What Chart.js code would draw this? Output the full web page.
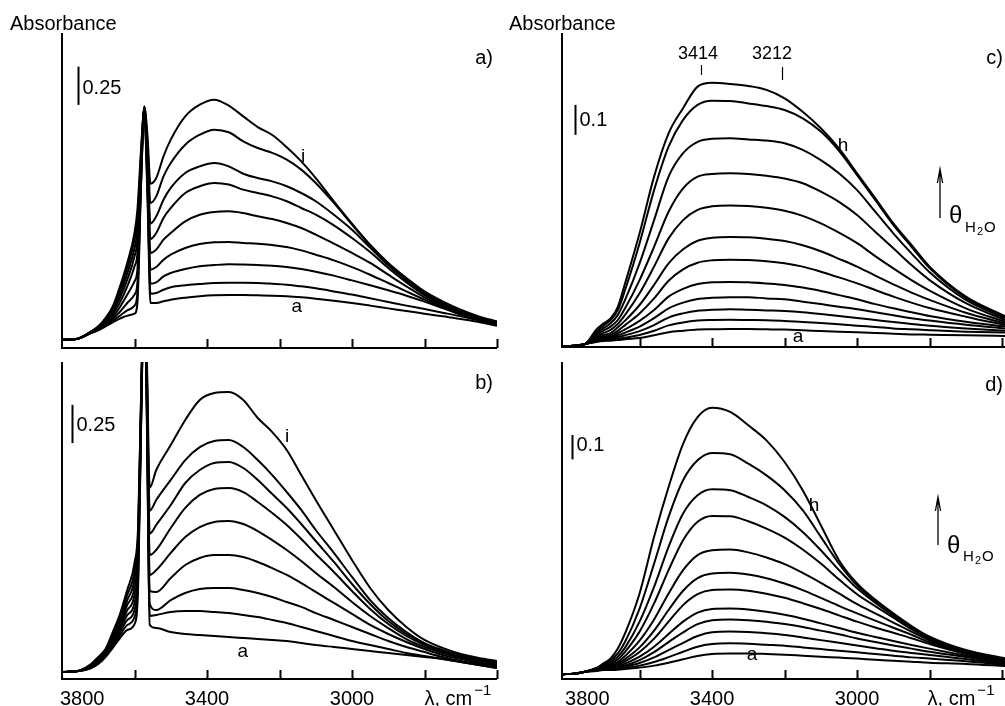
<!DOCTYPE html>
<html><head><meta charset="utf-8">
<script src="https://cdn.jsdelivr.net/npm/chart.js@4.4.1/dist/chart.umd.min.js"></script>
<style>
html,body{margin:0;padding:0;background:#fff;}
#wrap{position:relative;width:1005px;height:706px;overflow:hidden;background:#fff;}
canvas{position:absolute;left:0;top:0;}
</style></head>
<body><div id="wrap">
<canvas id="pa" width="1005" height="706"></canvas>
<canvas id="pb" width="1005" height="706"></canvas>
<canvas id="pc" width="1005" height="706"></canvas>
<canvas id="pd" width="1005" height="706"></canvas>
</div>
<script>
// ---------- Panel a (wavenumber grid, cm-1) ----------
const nuA = [3800,3760,3720,3700,3680,3660,3640,3620,3600,3592,3582,3573,3564,3556,3540,3520,3500,3460,3420,3380,3340,3300,3260,3220,3180,3140,3100,3050,3000,2950,2900,2850,2800,2750,2700,2650,2600];
const a_a = [0.054,0.059,0.098,0.115,0.142,0.168,0.192,0.211,0.224,0.294,1.057,1.545,0.969,0.294,0.294,0.305,0.316,0.329,0.338,0.344,0.346,0.346,0.344,0.342,0.338,0.331,0.322,0.309,0.294,0.277,0.259,0.242,0.224,0.207,0.190,0.170,0.146];
const a_b = [0.054,0.059,0.098,0.118,0.146,0.179,0.211,0.246,0.277,0.359,1.078,1.549,1.013,0.355,0.359,0.381,0.397,0.410,0.418,0.425,0.427,0.427,0.425,0.420,0.414,0.403,0.390,0.370,0.349,0.325,0.301,0.277,0.255,0.231,0.207,0.179,0.150];
const a_c = [0.054,0.059,0.098,0.120,0.150,0.190,0.237,0.294,0.349,0.425,1.100,1.553,1.057,0.420,0.429,0.468,0.490,0.516,0.534,0.542,0.547,0.545,0.542,0.538,0.529,0.516,0.499,0.473,0.442,0.410,0.377,0.342,0.303,0.261,0.218,0.181,0.153];
const a_d = [0.054,0.059,0.100,0.122,0.157,0.203,0.268,0.349,0.436,0.512,1.133,1.558,1.100,0.512,0.529,0.577,0.610,0.654,0.680,0.691,0.693,0.686,0.682,0.673,0.660,0.638,0.610,0.573,0.529,0.479,0.425,0.370,0.316,0.266,0.220,0.183,0.155];
const a_e = [0.054,0.059,0.100,0.124,0.163,0.218,0.298,0.403,0.534,0.621,1.166,1.562,1.166,0.621,0.643,0.708,0.752,0.828,0.871,0.889,0.893,0.882,0.861,0.843,0.817,0.784,0.741,0.682,0.621,0.556,0.479,0.403,0.331,0.272,0.224,0.185,0.157];
const a_f = [0.054,0.059,0.102,0.129,0.172,0.233,0.327,0.447,0.599,0.708,1.198,1.566,1.209,0.712,0.752,0.850,0.915,1.013,1.057,1.078,1.068,1.035,1.013,0.991,0.959,0.915,0.871,0.802,0.719,0.627,0.523,0.429,0.346,0.281,0.231,0.190,0.159];
const a_g = [0.054,0.059,0.105,0.133,0.181,0.246,0.355,0.486,0.654,0.773,1.231,1.571,1.253,0.813,0.861,0.969,1.046,1.144,1.187,1.209,1.187,1.139,1.111,1.089,1.057,1.013,0.959,0.871,0.773,0.656,0.540,0.442,0.355,0.290,0.237,0.194,0.163];
const a_h = [0.054,0.059,0.107,0.137,0.190,0.261,0.381,0.523,0.708,0.839,1.264,1.575,1.318,0.948,0.991,1.122,1.209,1.329,1.394,1.427,1.410,1.351,1.307,1.275,1.231,1.166,1.078,0.948,0.806,0.671,0.551,0.451,0.364,0.298,0.244,0.200,0.168];
const a_i = [0.054,0.059,0.109,0.142,0.196,0.272,0.403,0.556,0.752,0.904,1.296,1.580,1.383,1.074,1.111,1.253,1.362,1.514,1.590,1.623,1.584,1.514,1.444,1.392,1.312,1.220,1.111,0.959,0.813,0.675,0.556,0.458,0.370,0.305,0.251,0.207,0.174];

// ---------- Panel b ----------
const nuB = [3800,3760,3720,3700,3680,3660,3640,3620,3600,3590,3580,3573,3566,3558,3540,3500,3460,3420,3380,3340,3300,3260,3220,3180,3140,3100,3050,3000,2950,2900,2850,2800,2750,2700,2650,2600];
const b_a = [0.046,0.050,0.072,0.098,0.144,0.203,0.268,0.320,0.359,0.60,1.90,2.6,1.70,0.353,0.333,0.307,0.294,0.288,0.281,0.275,0.268,0.261,0.255,0.248,0.235,0.222,0.209,0.196,0.183,0.170,0.157,0.144,0.131,0.111,0.092,0.072];
const b_b = [0.046,0.050,0.072,0.105,0.150,0.216,0.288,0.353,0.405,0.65,1.92,2.6,1.75,0.412,0.418,0.438,0.444,0.444,0.438,0.431,0.418,0.405,0.386,0.366,0.340,0.314,0.281,0.248,0.222,0.196,0.170,0.150,0.131,0.111,0.092,0.072];
const b_c = [0.046,0.050,0.078,0.111,0.157,0.229,0.307,0.386,0.451,0.70,1.94,2.6,1.80,0.490,0.451,0.516,0.562,0.588,0.595,0.595,0.582,0.562,0.536,0.503,0.471,0.431,0.386,0.340,0.294,0.248,0.209,0.176,0.144,0.118,0.098,0.078];
const b_d = [0.046,0.050,0.078,0.111,0.163,0.242,0.327,0.418,0.497,0.75,1.96,2.6,1.85,0.575,0.569,0.660,0.745,0.791,0.810,0.810,0.797,0.765,0.725,0.680,0.627,0.569,0.497,0.425,0.353,0.294,0.242,0.196,0.157,0.131,0.105,0.085];
const b_e = [0.046,0.050,0.085,0.118,0.170,0.255,0.346,0.451,0.549,0.80,1.98,2.6,1.90,0.680,0.712,0.824,0.928,0.993,1.026,1.033,1.013,0.967,0.908,0.843,0.771,0.693,0.601,0.503,0.412,0.333,0.261,0.209,0.170,0.137,0.111,0.092];
const b_f = [0.046,0.050,0.085,0.124,0.176,0.268,0.366,0.484,0.601,0.85,2.00,2.6,1.95,0.810,0.843,0.987,1.118,1.203,1.242,1.248,1.222,1.157,1.085,1.007,0.915,0.817,0.699,0.575,0.458,0.359,0.281,0.222,0.176,0.144,0.118,0.098];
const b_g = [0.046,0.050,0.092,0.131,0.183,0.281,0.386,0.516,0.654,0.90,2.02,2.6,2.00,0.950,1.007,1.137,1.281,1.366,1.412,1.418,1.379,1.301,1.209,1.118,1.013,0.902,0.765,0.621,0.490,0.379,0.294,0.229,0.183,0.150,0.124,0.105];
const b_h = [0.046,0.050,0.092,0.137,0.190,0.294,0.405,0.549,0.706,0.95,2.04,2.6,2.05,1.100,1.170,1.301,1.431,1.516,1.556,1.562,1.516,1.431,1.333,1.222,1.105,0.974,0.824,0.667,0.516,0.399,0.307,0.235,0.190,0.157,0.131,0.111];
const b_i = [0.046,0.050,0.098,0.144,0.196,0.307,0.425,0.582,0.758,1.00,2.06,2.6,2.10,1.250,1.366,1.529,1.693,1.824,1.869,1.876,1.824,1.706,1.614,1.497,1.333,1.170,0.974,0.778,0.595,0.451,0.340,0.255,0.203,0.163,0.137,0.118];

// ---------- Panels c and d (shared wavenumber grid) ----------
const nuCD = [3814,3780,3750,3720,3700,3680,3660,3640,3600,3560,3520,3480,3440,3400,3350,3300,3250,3200,3150,3100,3050,3000,2950,2900,2850,2800,2700,2592];
const c_1 = [0.003,0.004,0.010,0.057,0.078,0.095,0.134,0.212,0.379,0.568,0.712,0.796,0.868,0.881,0.877,0.870,0.857,0.829,0.784,0.729,0.662,0.579,0.496,0.412,0.340,0.268,0.168,0.103];
const c_2 = [0.003,0.004,0.010,0.051,0.070,0.090,0.123,0.190,0.346,0.523,0.668,0.757,0.807,0.821,0.820,0.812,0.803,0.790,0.762,0.718,0.654,0.573,0.490,0.407,0.334,0.263,0.164,0.101];
const c_3 = [0.003,0.004,0.010,0.046,0.062,0.079,0.107,0.157,0.279,0.423,0.568,0.646,0.684,0.694,0.696,0.692,0.688,0.679,0.657,0.623,0.579,0.523,0.451,0.379,0.312,0.249,0.157,0.096];
const c_4 = [0.003,0.004,0.010,0.040,0.054,0.068,0.090,0.129,0.223,0.334,0.451,0.529,0.568,0.577,0.579,0.577,0.571,0.562,0.546,0.518,0.484,0.440,0.384,0.329,0.273,0.223,0.146,0.090];
const c_5 = [0.003,0.004,0.010,0.034,0.046,0.057,0.077,0.107,0.179,0.268,0.362,0.423,0.457,0.469,0.472,0.470,0.464,0.454,0.437,0.412,0.381,0.346,0.303,0.262,0.223,0.188,0.129,0.084];
const c_6 = [0.003,0.004,0.010,0.029,0.039,0.046,0.066,0.088,0.140,0.207,0.279,0.326,0.354,0.364,0.367,0.366,0.361,0.353,0.339,0.319,0.294,0.268,0.238,0.209,0.181,0.157,0.114,0.079];
const c_7 = [0.003,0.004,0.010,0.026,0.034,0.040,0.054,0.073,0.112,0.162,0.221,0.259,0.281,0.289,0.291,0.290,0.286,0.279,0.268,0.251,0.232,0.212,0.190,0.168,0.148,0.130,0.101,0.073];
const c_8 = [0.003,0.004,0.010,0.023,0.031,0.034,0.046,0.059,0.087,0.123,0.168,0.194,0.210,0.216,0.217,0.216,0.212,0.207,0.198,0.187,0.173,0.159,0.143,0.129,0.116,0.103,0.084,0.068];
const c_9 = [0.003,0.004,0.010,0.021,0.028,0.031,0.039,0.048,0.068,0.096,0.129,0.148,0.160,0.164,0.166,0.166,0.162,0.159,0.151,0.143,0.134,0.126,0.116,0.106,0.096,0.088,0.074,0.062];
const c_10 = [0.003,0.004,0.010,0.019,0.024,0.028,0.033,0.039,0.053,0.073,0.098,0.112,0.121,0.124,0.126,0.124,0.122,0.120,0.116,0.110,0.103,0.097,0.090,0.083,0.077,0.071,0.062,0.054];
const c_11 = [0.003,0.004,0.010,0.018,0.022,0.024,0.028,0.031,0.040,0.054,0.072,0.082,0.088,0.090,0.091,0.090,0.089,0.087,0.083,0.080,0.076,0.071,0.067,0.062,0.059,0.056,0.051,0.048];
const c_12 = [0.003,0.004,0.010,0.017,0.020,0.021,0.023,0.026,0.030,0.039,0.049,0.054,0.058,0.059,0.060,0.060,0.059,0.058,0.056,0.053,0.051,0.049,0.047,0.044,0.042,0.041,0.039,0.037];

const d_1 = [0.020,0.022,0.030,0.044,0.064,0.085,0.126,0.188,0.352,0.585,0.790,0.968,1.078,1.116,1.099,1.044,0.982,0.893,0.777,0.633,0.489,0.393,0.327,0.270,0.218,0.174,0.119,0.085];
const d_2 = [0.020,0.022,0.030,0.044,0.060,0.078,0.105,0.153,0.290,0.475,0.667,0.818,0.900,0.930,0.925,0.886,0.838,0.777,0.695,0.585,0.475,0.386,0.322,0.267,0.215,0.171,0.116,0.082];
const d_3 = [0.020,0.022,0.030,0.044,0.056,0.071,0.092,0.129,0.236,0.379,0.544,0.681,0.756,0.781,0.777,0.749,0.715,0.667,0.605,0.530,0.448,0.373,0.314,0.260,0.211,0.168,0.114,0.079];
const d_4 = [0.020,0.022,0.030,0.044,0.053,0.064,0.081,0.112,0.195,0.311,0.448,0.571,0.647,0.671,0.670,0.649,0.619,0.582,0.533,0.475,0.410,0.349,0.300,0.252,0.205,0.164,0.111,0.077];
const d_5 = [0.020,0.022,0.030,0.042,0.051,0.059,0.071,0.095,0.158,0.245,0.352,0.448,0.510,0.530,0.533,0.521,0.500,0.473,0.437,0.396,0.352,0.308,0.270,0.232,0.195,0.158,0.108,0.074];
const d_6 = [0.020,0.022,0.030,0.041,0.048,0.055,0.064,0.082,0.130,0.199,0.284,0.363,0.415,0.434,0.437,0.430,0.415,0.393,0.366,0.334,0.301,0.270,0.240,0.211,0.182,0.151,0.105,0.071];
const d_7 = [0.020,0.022,0.030,0.040,0.045,0.051,0.059,0.073,0.111,0.166,0.236,0.304,0.349,0.366,0.368,0.363,0.351,0.334,0.312,0.288,0.262,0.236,0.212,0.190,0.168,0.144,0.103,0.068];
const d_8 = [0.020,0.022,0.030,0.038,0.042,0.047,0.053,0.063,0.092,0.133,0.185,0.236,0.273,0.288,0.290,0.286,0.277,0.264,0.248,0.229,0.210,0.190,0.173,0.156,0.140,0.125,0.096,0.066];
const d_9 = [0.020,0.022,0.030,0.037,0.041,0.044,0.049,0.056,0.078,0.111,0.152,0.192,0.226,0.242,0.245,0.242,0.236,0.226,0.214,0.199,0.184,0.167,0.152,0.138,0.125,0.112,0.090,0.063];
const d_10 = [0.020,0.022,0.030,0.036,0.040,0.042,0.045,0.051,0.066,0.089,0.119,0.149,0.177,0.192,0.195,0.193,0.188,0.181,0.171,0.160,0.149,0.138,0.127,0.116,0.107,0.099,0.082,0.060];
const d_11 = [0.020,0.022,0.030,0.034,0.038,0.040,0.041,0.045,0.055,0.070,0.090,0.112,0.133,0.144,0.147,0.145,0.141,0.137,0.130,0.123,0.116,0.110,0.103,0.096,0.089,0.084,0.073,0.058];
const d_12 = [0.020,0.022,0.030,0.033,0.037,0.037,0.038,0.041,0.047,0.055,0.067,0.081,0.095,0.103,0.105,0.105,0.103,0.100,0.096,0.092,0.088,0.084,0.079,0.075,0.071,0.067,0.062,0.053];

// ---------- Axis ticks and labels ----------
const ticksAB = [3600,3400,3200,3000,2800,2600];
const ticksCD = [3600,3400,3200,3000,2800,2600];
const tickLabels = [3800,3400,3000];
const axisTitle = 'λ, cm';
const axisTitleSup = '−1';

const FONT = "'Liberation Sans', Arial, Helvetica, sans-serif";

const decorPlugin = {
  id: 'decor',
  afterDraw(chart, args, o) {
    const ctx = chart.ctx, ca = chart.chartArea, xs = chart.scales.x, ys = chart.scales.y;
    ctx.save();
    ctx.strokeStyle = '#000'; ctx.fillStyle = '#000';
    ctx.lineWidth = 2;
    ctx.beginPath();
    ctx.moveTo(ca.left, ca.top); ctx.lineTo(ca.left, ca.bottom + 1);
    ctx.moveTo(ca.left - 1, ca.bottom); ctx.lineTo(ca.right, ca.bottom);
    o.ticks.forEach(v => {
      const px = Math.round(xs.getPixelForValue(v)) + 0.5;
      ctx.moveTo(px, ca.bottom); ctx.lineTo(px, ca.bottom - 9);
    });
    ctx.stroke();
    if (o.showLabels) {
      ctx.font = '20px ' + FONT; ctx.textBaseline = 'alphabetic';
      tickLabels.forEach((v, i) => {
        const px = xs.getPixelForValue(v);
        ctx.textAlign = i === 0 ? 'left' : 'center';
        ctx.fillText(String(v), i === 0 ? px - 2 : px, 705);
      });
      const tx = xs.getPixelForValue(2800) + o.titleShift;
      ctx.textAlign = 'left';
      ctx.fillText(axisTitle, tx, 705);
      const w = ctx.measureText(axisTitle).width;
      ctx.font = '15px ' + FONT;
      ctx.fillText(axisTitleSup, tx + w + 2, 695);
    }
    const sb = o.bar;
    const bx = Math.round(xs.getPixelForValue(sb.nu)) + 0.5;
    const by0 = ys.getPixelForValue(sb.a0), by1 = ys.getPixelForValue(sb.a0 + sb.len);
    ctx.lineWidth = 2;
    ctx.beginPath(); ctx.moveTo(bx, by0); ctx.lineTo(bx, by1); ctx.stroke();
    ctx.font = '20px ' + FONT; ctx.textAlign = 'left'; ctx.textBaseline = 'middle';
    ctx.fillText(sb.label, bx + 4, (by0 + by1) / 2 + sb.dy);
    ctx.font = '19px ' + FONT; ctx.textAlign = 'center'; ctx.textBaseline = 'middle';
    o.curveLabels.forEach(l => ctx.fillText(l.s, xs.getPixelForValue(l.nu), ys.getPixelForValue(l.a)));
    ctx.lineWidth = 1.2;
    (o.markers || []).forEach(m => {
      const mx = Math.round(xs.getPixelForValue(m.nu)) + 0.5;
      ctx.beginPath(); ctx.moveTo(mx, ys.getPixelForValue(m.a0)); ctx.lineTo(mx, ys.getPixelForValue(m.a1)); ctx.stroke();
    });
    (o.texts || []).forEach(t => {
      ctx.font = (t.size || 20) + 'px ' + FONT;
      ctx.textAlign = t.align || 'left';
      ctx.textBaseline = t.base || 'alphabetic';
      ctx.fillText(t.s, t.x, t.y);
    });
    if (o.arrow) {
      const A = o.arrow;
      ctx.lineWidth = 1.3;
      ctx.beginPath();
      ctx.moveTo(A.x, A.y1); ctx.lineTo(A.x, A.y0);
      ctx.moveTo(A.x - 2.6, A.y0 + 14); ctx.lineTo(A.x, A.y0); ctx.lineTo(A.x + 2.6, A.y0 + 14);
      ctx.stroke();
      ctx.textAlign = 'left'; ctx.textBaseline = 'alphabetic';
      ctx.font = '24px ' + FONT; ctx.fillText('θ', A.x + 9, A.tb);
      ctx.font = '15px ' + FONT; ctx.fillText('H', A.x + 25, A.sb);
      ctx.font = '11px ' + FONT; ctx.fillText('2', A.x + 37, A.sb + 3);
      ctx.font = '15px ' + FONT; ctx.fillText('O', A.x + 44, A.sb);
    }
    ctx.restore();
  }
};

function buildChart(id, nu, series, xMin, xMax, yMax, pad, decor) {
  const datasets = series.map(s => ({
    data: nu.map((v, i) => ({ x: v, y: s[i] })),
    borderColor: '#000', borderWidth: 2, pointRadius: 0, fill: false,
    cubicInterpolationMode: 'monotone'
  }));
  return new Chart(document.getElementById(id), {
    type: 'line',
    data: { datasets },
    options: {
      responsive: false, animation: false, devicePixelRatio: 1, events: [],
      layout: { padding: pad },
      scales: {
        x: { type: 'linear', reverse: true, min: xMin, max: xMax, display: false },
        y: { type: 'linear', min: 0, max: yMax, display: false }
      },
      plugins: { legend: { display: false }, tooltip: { enabled: false }, decor }
    },
    plugins: [decorPlugin]
  });
}

buildChart('pa', nuA, [a_a,a_b,a_c,a_d,a_e,a_f,a_g,a_h,a_i], 2600, 3800, 315/153,
  { left: 62, top: 33, right: 508, bottom: 358 },
  { ticks: ticksAB, showLabels: false,
    bar: { nu: 3757, a0: 1.589, len: 0.25, label: '0.25', dy: 3 },
    curveLabels: [{ s: 'i', nu: 3135, a: 1.248 }, { s: 'a', nu: 3152, a: 0.268 }],
    texts: [{ s: 'Absorbance', x: 10, y: 30 }, { s: 'a)', x: 493, y: 58, align: 'right', base: 'middle' }] });

buildChart('pb', nuB, [b_a,b_b,b_c,b_d,b_e,b_f,b_g,b_h,b_i], 2600, 3800, 317/153,
  { left: 62, top: 362, right: 508, bottom: 27 },
  { ticks: ticksAB, showLabels: true, titleShift: 0,
    bar: { nu: 3772, a0: 1.542, len: 0.25, label: '0.25', dy: 2 },
    curveLabels: [{ s: 'i', nu: 3179, a: 1.582 }, { s: 'a', nu: 3301, a: 0.176 }],
    texts: [{ s: 'b)', x: 493, y: 383, align: 'right', base: 'middle' }] });

buildChart('pc', nuCD, [c_1,c_2,c_3,c_4,c_5,c_6,c_7,c_8,c_9,c_10,c_11,c_12], 2592, 3814, 314/300,
  { left: 562, top: 33, right: 0, bottom: 359 },
  { ticks: ticksCD, showLabels: false,
    bar: { nu: 3778, a0: 0.707, len: 0.1, label: '0.1', dy: 1 },
    curveLabels: [{ s: 'h', nu: 3039, a: 0.670 }, { s: 'a', nu: 3163, a: 0.033 }],
    markers: [{ nu: 3431, a0: 0.907, a1: 0.940 }, { nu: 3208, a0: 0.890, a1: 0.933 }],
    texts: [{ s: 'Absorbance', x: 509, y: 30 }, { s: 'c)', x: 1003, y: 58, align: 'right', base: 'middle' },
            { s: '3414', x: 698, y: 54, align: 'center', base: 'middle', size: 18 },
            { s: '3212', x: 772, y: 54, align: 'center', base: 'middle', size: 18 }],
    arrow: { x: 940, y0: 169, y1: 218, tb: 223, sb: 232 } });

buildChart('pd', nuCD, [d_1,d_2,d_3,d_4,d_5,d_6,d_7,d_8,d_9,d_10,d_11,d_12], 2592, 3814, 317/243,
  { left: 562, top: 362, right: 0, bottom: 27 },
  { ticks: ticksCD, showLabels: true, titleShift: -2,
    bar: { nu: 3786, a0: 0.904, len: 0.1, label: '0.1', dy: -2 },
    curveLabels: [{ s: 'h', nu: 3119, a: 0.712 }, { s: 'a', nu: 3290, a: 0.099 }],
    texts: [{ s: 'd)', x: 1003, y: 385, align: 'right', base: 'middle' }],
    arrow: { x: 938, y0: 497, y1: 545, tb: 553, sb: 561 } });
</script>
</body></html>
